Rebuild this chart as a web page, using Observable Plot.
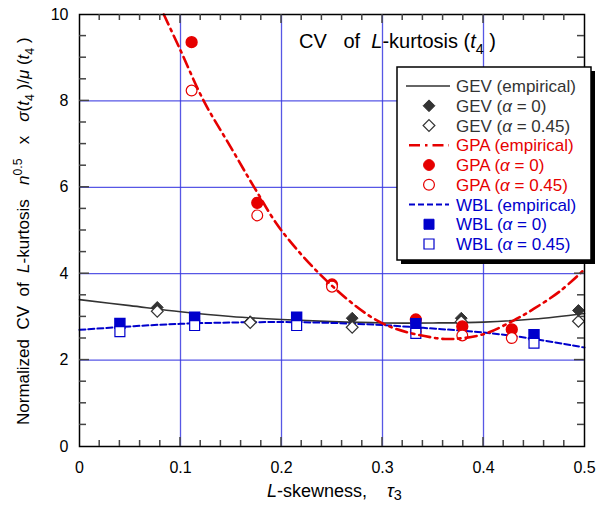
<!DOCTYPE html>
<html>
<head>
<meta charset="utf-8">
<script src="https://cdn.jsdelivr.net/npm/d3@7"></script>
<script src="https://cdn.jsdelivr.net/npm/@observablehq/plot@0.6"></script>
<style>
  html, body { margin: 0; padding: 0; background: #fff; }
  #chart svg { display: block; font-family: "Liberation Sans", Arial, sans-serif; }
</style>
</head>
<body>
<div id="chart"></div>
<script>
// Empirical curves (L-skewness tau3 vs normalized CV of t4)
const gevLineX = [0, 0.05, 0.1, 0.15, 0.2, 0.25, 0.3, 0.35, 0.4, 0.45, 0.5];
const gevLineY = [3.40, 3.26, 3.12, 3.01, 2.94, 2.89, 2.86, 2.86, 2.88, 2.95, 3.08];

const gpaLineX = [0.0835, 0.1, 0.123, 0.15, 0.173, 0.2, 0.25, 0.3, 0.35, 0.37, 0.4, 0.43, 0.45, 0.476, 0.5];
const gpaLineY = [10.0, 9.17, 8.0, 6.92, 6.0, 5.0, 3.72, 2.85, 2.52, 2.49, 2.6, 2.92, 3.19, 3.6, 4.1];

const wblLineX = [0, 0.05, 0.1, 0.15, 0.2, 0.25, 0.3, 0.35, 0.4, 0.45, 0.5];
const wblLineY = [2.70, 2.78, 2.84, 2.87, 2.88, 2.86, 2.81, 2.73, 2.64, 2.49, 2.29];

// Simulated points, plotting positions alpha = 0 and alpha = 0.45
const gevPtX = [0.077, 0.169, 0.270, 0.378, 0.494];
const gevA0 = [3.22, 2.89, 2.97, 2.97, 3.15];
const gevA45 = [3.13, 2.87, 2.76, 2.89, 2.90];

const gpaPtX = [0.111, 0.176, 0.250, 0.333, 0.379, 0.428];
const gpaA0 = [9.36, 5.64, 3.75, 2.94, 2.78, 2.71];
const gpaA45 = [8.24, 5.35, 3.70, 2.66, 2.57, 2.51];

const wblPtX = [0.040, 0.114, 0.215, 0.333, 0.450];
const wblA0 = [2.85, 2.99, 2.99, 2.84, 2.59];
const wblA45 = [2.66, 2.80, 2.80, 2.62, 2.39];

// Axis ticks
const xTicks = [0, 0.1, 0.2, 0.3, 0.4, 0.5];
const xTickLabels = ["0", "0.1", "0.2", "0.3", "0.4", "0.5"];
const yTicks = [0, 2, 4, 6, 8, 10];
const yTickLabels = ["0", "2", "4", "6", "8", "10"];
const xMinor = d3.range(1, 25).map(i => i * 0.02);
const yMinor = d3.range(1, 20).map(i => i * 0.5);

const GREY = "#333333", RED = "#e60000", BLUE = "#0000cc";
const GRID = "#3a3ae0";
const GPA_DASH = "11,5,2.5,5";
const WBL_DASH = "6,3";

const pts = (xs, ys) => xs.map((x, i) => ({x, y: ys[i]}));

const plot = Plot.plot({
  width: 610,
  height: 507,
  marginLeft: 79,
  marginRight: 26,
  marginTop: 14,
  marginBottom: 61,
  x: {domain: [0, 0.5]},
  y: {domain: [0, 10]},
  style: {fontFamily: "Liberation Sans, Arial, sans-serif", fontSize: "16px", color: "#000"},
  marks: [
    Plot.gridX([0.1, 0.2, 0.3, 0.4], {stroke: GRID, strokeOpacity: 0.85, strokeWidth: 1.3}),
    Plot.gridY([2, 4, 6, 8], {stroke: GRID, strokeOpacity: 0.85, strokeWidth: 1.3}),
    // tick labels
    Plot.axisX({anchor: "bottom", ticks: xTicks, tickSize: 0, tickPadding: 15, tickFormat: (d, i) => xTickLabels[i], label: null, fontSize: 16}),
    Plot.axisY({anchor: "left", ticks: yTicks, tickSize: 0, tickPadding: 11, tickFormat: (d, i) => yTickLabels[i], label: null, fontSize: 16}),
    // empirical curves
    Plot.line(pts(gevLineX, gevLineY), {x: "x", y: "y", curve: "catmull-rom", stroke: GREY, strokeWidth: 1.6}),
    Plot.line(pts(wblLineX, wblLineY), {x: "x", y: "y", curve: "catmull-rom", stroke: BLUE, strokeWidth: 2, strokeDasharray: WBL_DASH}),
    // points
    Plot.dot(pts(gevPtX, gevA0), {x: "x", y: "y", symbol: "diamond2", r: 5.3, fill: GREY, stroke: GREY, strokeWidth: 1}),
    Plot.dot(pts(gevPtX, gevA45), {x: "x", y: "y", symbol: "diamond2", r: 5.3, fill: "#fff", stroke: GREY, strokeWidth: 1.2}),
    Plot.dot(pts(gpaPtX, gpaA0), {x: "x", y: "y", symbol: "circle", r: 5.4, fill: RED, stroke: RED}),
    Plot.dot(pts(gpaPtX, gpaA45), {x: "x", y: "y", symbol: "circle", r: 5.4, fill: "#fff", stroke: RED, strokeWidth: 1.2}),
    Plot.dot(pts(wblPtX, wblA0), {x: "x", y: "y", symbol: "square", r: 5.6, fill: BLUE, stroke: BLUE}),
    Plot.dot(pts(wblPtX, wblA45), {x: "x", y: "y", symbol: "square", r: 5.6, fill: "#fff", stroke: BLUE, strokeWidth: 1.2}),
    Plot.line(pts(gpaLineX, gpaLineY), {x: "x", y: "y", curve: "catmull-rom", stroke: RED, strokeWidth: 2.6, strokeDasharray: GPA_DASH}),
    Plot.frame({stroke: "#000", strokeWidth: 1.5})
  ]
});

document.getElementById("chart").append(plot);

const svg = d3.select(plot);
const sx = plot.scale("x"), sy = plot.scale("y");
const [xL, xR] = sx.range, [yB, yT] = sy.range;

// inward ticks on all four sides, placed through the chart's scales
const tk = svg.append("g").attr("stroke", "#444").attr("stroke-width", 1.5);
for (const v of xMinor) {
  const px = sx.apply(v), len = xTicks.some(t => Math.abs(t - v) < 1e-9) ? 9 : 6;
  tk.append("line").attr("x1", px).attr("x2", px).attr("y1", yB).attr("y2", yB - len);
  tk.append("line").attr("x1", px).attr("x2", px).attr("y1", yT).attr("y2", yT + len);
}
for (const v of yMinor) {
  const py = sy.apply(v), len = yTicks.includes(v) ? 10 : 7;
  tk.append("line").attr("x1", xL).attr("x2", xL + len).attr("y1", py).attr("y2", py);
  tk.append("line").attr("x1", xR).attr("x2", xR - len).attr("y1", py).attr("y2", py);
}

// helper: write a run of styled pieces into a text element
function rich(text, parts) {
  text.style("white-space", "pre").attr("text-anchor", "start");
  for (const p of parts) {
    const t = text.append("tspan").text(p.t);
    if (p.i) t.attr("font-style", "italic");
    if (p.sub) t.attr("font-size", p.fs || "0.72em").attr("dy", p.sub);
    if (p.dy) t.attr("dy", p.dy);
  }
  return text;
}

// title inside the frame
rich(svg.append("text").attr("x", 299).attr("y", 48).attr("font-size", 20).attr("fill", "#000"), [
  {t: "CV   of  "}, {t: "L", i: true}, {t: "-kurtosis ("}, {t: "t", i: true},
  {t: "4", sub: "6"}, {t: " )", dy: "-6"}
]);

// x-axis label
rich(svg.append("text").attr("x", 267).attr("y", 497).attr("font-size", 18).attr("fill", "#000"), [
  {t: "L", i: true}, {t: "-skewness,    "}, {t: "τ", i: true}, {t: "3", sub: "3", fs: "0.8em"}
]);

// y-axis label
rich(svg.append("text").attr("transform", "translate(29,425) rotate(-90)").attr("font-size", 17).attr("fill", "#000"), [
  {t: "Normalized  CV  of  "}, {t: "L", i: true}, {t: "-kurtosis   "},
  {t: "n", i: true}, {t: "0.5", sub: "-7"}, {t: "   x   ", dy: "7"},
  {t: "σ", i: true}, {t: "("}, {t: "t", i: true}, {t: "4", sub: "5"}, {t: " )/", dy: "-5"},
  {t: "μ", i: true}, {t: " ("}, {t: "t", i: true}, {t: "4", sub: "5"}, {t: " )", dy: "-5"}
]);

// legend box with drop shadow
const lg = svg.append("g");
lg.append("rect").attr("x", 401).attr("y", 71).attr("width", 194).attr("height", 193).attr("fill", "#000");
lg.append("rect").attr("x", 397).attr("y", 67).attr("width", 194).attr("height", 193)
  .attr("fill", "#fff").attr("stroke", "#000").attr("stroke-width", 1.5);

const legendRows = [
  {name: "GEV", tag: "(empirical)", color: GREY, line: "", sym: null},
  {name: "GEV", alpha: "0", color: GREY, sym: d3.symbolDiamond2, fill: true},
  {name: "GEV", alpha: "0.45", color: GREY, sym: d3.symbolDiamond2, fill: false},
  {name: "GPA", tag: "(empirical)", color: RED, line: GPA_DASH, sym: null},
  {name: "GPA", alpha: "0", color: RED, sym: d3.symbolCircle, fill: true},
  {name: "GPA", alpha: "0.45", color: RED, sym: d3.symbolCircle, fill: false},
  {name: "WBL", tag: "(empirical)", color: BLUE, line: WBL_DASH, sym: null},
  {name: "WBL", alpha: "0", color: BLUE, sym: d3.symbolSquare, fill: true},
  {name: "WBL", alpha: "0.45", color: BLUE, sym: d3.symbolSquare, fill: false}
];

legendRows.forEach((r, i) => {
  const cy = 86 + i * 19.75;
  if (!r.sym) {
    lg.append("line").attr("x1", r.line ? 409 : 406).attr("x2", r.line ? 449 : 450)
      .attr("y1", cy).attr("y2", cy).attr("stroke", r.color)
      .attr("stroke-width", r.line ? (r.color === RED ? 2.6 : 2) : 1.6)
      .attr("stroke-dasharray", r.line || null);
  } else {
    const size = r.sym === d3.symbolDiamond2 ? 88 : r.sym === d3.symbolCircle ? 92 : 100;
    lg.append("path").attr("d", d3.symbol(r.sym, size)())
      .attr("transform", `translate(429,${cy})`)
      .attr("fill", r.fill ? r.color : "#fff").attr("stroke", r.color)
      .attr("stroke-width", r.fill ? 1 : 1.2);
  }
  const t = lg.append("text").attr("x", 456).attr("y", cy + 6).attr("font-size", 17).attr("fill", r.color);
  if (r.tag) rich(t, [{t: `${r.name} ${r.tag}`}]);
  else rich(t, [{t: `${r.name} (`}, {t: "α", i: true}, {t: ` = ${r.alpha})`}]);
});
</script>
</body>
</html>
